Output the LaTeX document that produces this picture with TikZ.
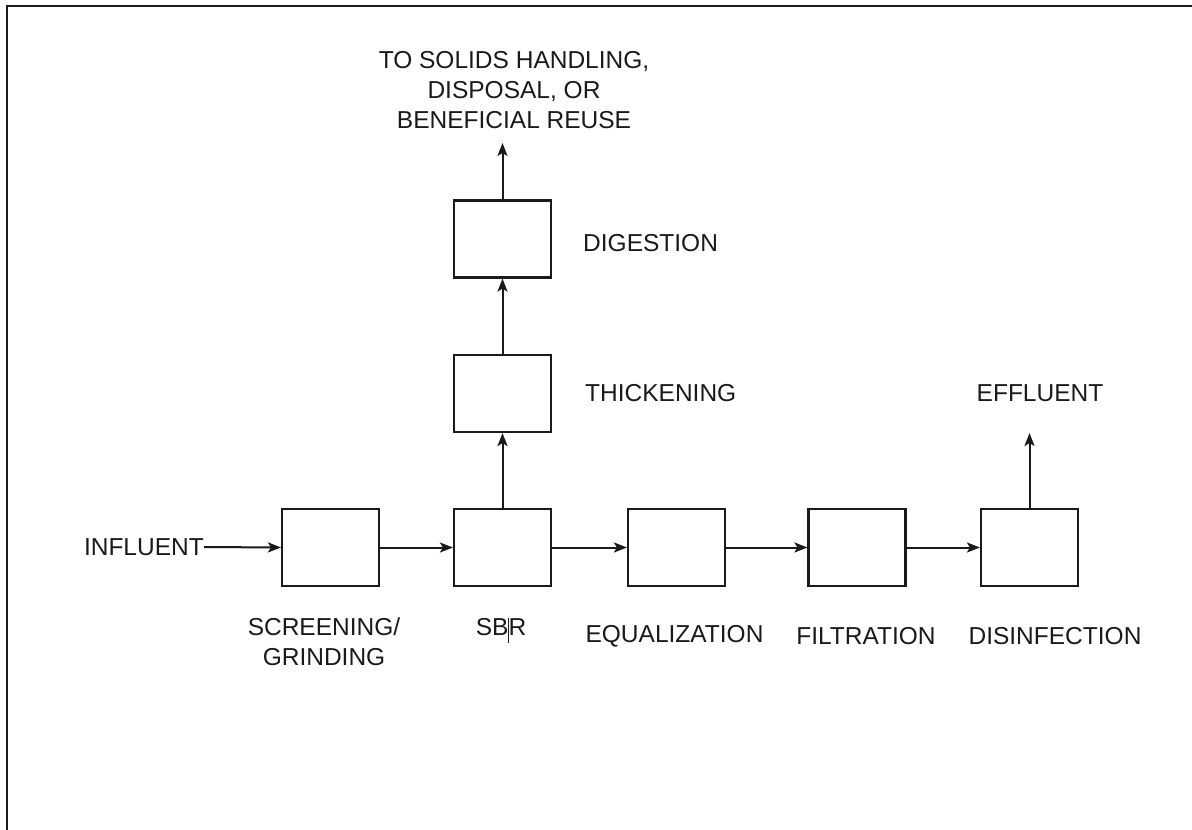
\documentclass[tikz,border=0pt]{standalone}
\usepackage{fontspec}
\setmainfont{Liberation Sans}
\usetikzlibrary{arrows.meta}

\definecolor{ink}{HTML}{1A1A1A}

\tikzset{
  unit/.style={draw=ink, line width=2.1pt, minimum width=97pt, minimum height=77pt, inner sep=0pt},
  label/.style={text=ink, inner sep=0pt, font=\fontsize{24.5}{30}\selectfont, align=center},
  flow/.style={draw=ink, line width=2pt, -{Stealth[length=13pt,width=10pt,inset=3pt]}},
  frame/.style={draw=ink, line width=2.2pt}
}

\begin{document}
\begin{tikzpicture}[x=1pt,y=-1pt]
  \useasboundingbox (0,0) rectangle (1192,830);
  \fill[white] (0,0) rectangle (1192,830);

  % page frame (top and left edges)
  \draw[frame] (7,830) -- (7,6) -- (1192,6);

  % main treatment train
  \node[unit] (screen) at (330.5,547.5) {};
  \node[unit] (sbr)    at (502.5,547.5) {};
  \node[unit] (equal)  at (676.5,547.5) {};
  \node[unit] (filt)   at (857,547.5) {};
  \node[unit] (disinf) at (1029.5,547.5) {};

  % solids line
  \node[unit] (thick)  at (502.5,393.5) {};
  \node[unit] (digest) at (502.5,239) {};

  % labels
  \node[label, anchor=east] (influent) at (204,547) {INFLUENT};
  \node[label, anchor=north] (lscreen) at (324,618) {SCREENING/\\GRINDING};
  \node[label, anchor=north] (lsbr) at (501,618) {SB\makebox[0pt]{\rule[-0.3em]{1.2pt}{1.02em}}R};
  \node[label] (lequal)  at (674.5,636) {EQUALIZATION};
  \node[label] (lfilt)   at (866,636) {FILTRATION};
  \node[label] (ldisinf) at (1055,636) {DISINFECTION};
  \node[label, anchor=west] (lthick)  at (585,393) {THICKENING};
  \node[label, anchor=west] (ldigest) at (583,243) {DIGESTION};
  \node[label] (leffl) at (1040,393) {EFFLUENT};
  \node[label, anchor=north] (lsolids) at (514,51)
    {TO SOLIDS HANDLING,\\DISPOSAL, OR\\BENEFICIAL REUSE};

  % free ends of the outlet arrows
  \coordinate (effout)    at (1029.5,433);
  \coordinate (solidsout) at (502.5,143);

  % connectors
  \draw[flow] (influent.east) -- (screen.west);
  \draw[flow] (screen.east) -- (sbr.west);
  \draw[flow] (sbr.east) -- (equal.west);
  \draw[flow] (equal.east) -- (filt.west);
  \draw[flow] (filt.east) -- (disinf.west);
  \draw[flow] (disinf.north) -- (effout);
  \draw[flow] (sbr.north) -- (thick.south);
  \draw[flow] (thick.north) -- (digest.south);
  \draw[flow] (digest.north) -- (solidsout);
\end{tikzpicture}
\end{document}
